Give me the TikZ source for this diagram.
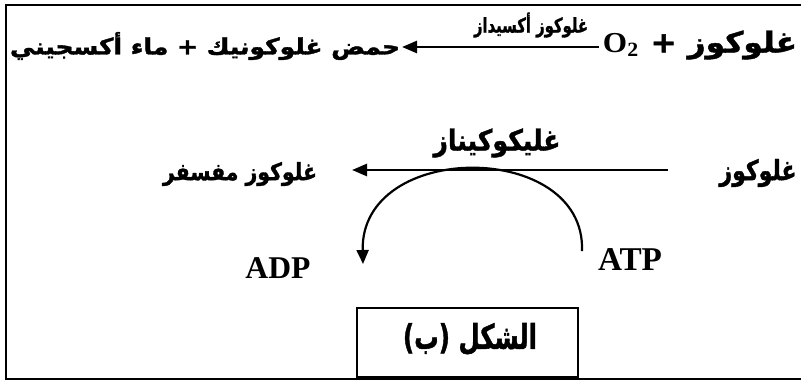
\documentclass[tikz,border=0pt]{standalone}
\usepackage{graphicx}
\usepackage{fontspec}
\setmainfont{Liberation Serif}
\newfontfamily\arabicfont[Script=Arabic,FakeBold=1.5]{DejaVu Sans Bold}
\TeXXeTstate=1
\usetikzlibrary{arrows.meta}
\newcommand{\latxt}[2]{\resizebox{#1pt}{!}{\bfseries #2}}
\tikzset{
  lbl/.style={inner sep=0pt, outer sep=0pt, anchor=center},
  rxn/.style={line width=2.6pt, -{Triangle[length=15pt,width=12pt]}},
  frameline/.style={line width=2.4pt},
}
\begin{document}
\begin{tikzpicture}[x=1pt,y=-1pt]
\useasboundingbox (0,0) rectangle (807,381);
% outer frame
\draw[frameline] (801,5) -- (6,5) -- (6,379) -- (801,379);
% row 1
\node[lbl] (g1) at (700,45) {\resizebox*{194pt}{29pt}{\arabicfont\beginR غلوكوز + \beginL{\fontspec{Liberation Serif}\bfseries O\textsubscript{2}}\endL{}\endR}};
\node[lbl] (p1) at (205,46) {\resizebox*{390pt}{28pt}{\arabicfont\beginR حمض غلوكونيك + ماء أكسجيني\endR}};
\node[lbl] (e1) at (531,25) {\resizebox*{114pt}{25pt}{\arabicfont\beginR غلوكوز أكسيداز\endR}};
\draw[rxn, shorten <=4pt, shorten >=2pt] (g1.west |- 0,47) -- (p1.east |- 0,47);
% row 2
\node[lbl] (g2) at (758,173) {\resizebox*{77pt}{28pt}{\arabicfont\beginR غلوكوز\endR}};
\node[lbl] (p2) at (240,174) {\resizebox*{154pt}{24pt}{\arabicfont\beginR غلوكوز مفسفر\endR}};
\node[lbl] (e2) at (497,143) {\resizebox*{127pt}{29pt}{\arabicfont\beginR غليكوكيناز\endR}};
\draw[rxn, shorten <=52pt, shorten >=35pt] (g2.west |- 0,170) -- (p2.east |- 0,170);
% ATP / ADP
\node[lbl] (atp) at (630,260) {\latxt{64}{ATP}};
\node[lbl] (adp) at (278,268) {\latxt{65}{ADP}};
\coordinate (cs) at (582,251);
\coordinate (ce) at (363,264);
\draw[line width=2.2pt, -{Triangle[length=14pt,width=12pt]}] (cs) .. controls (586,140) and (360,140) .. (ce);
% caption box
\node[lbl, draw, line width=2pt, minimum width=221pt, minimum height=69pt] (box) at (467.5,342.5) {};
\node[lbl] (cap) at (470,339) {\resizebox*{134pt}{32pt}{\arabicfont\beginR الشكل (ب)\endR}};
\end{tikzpicture}
\end{document}
